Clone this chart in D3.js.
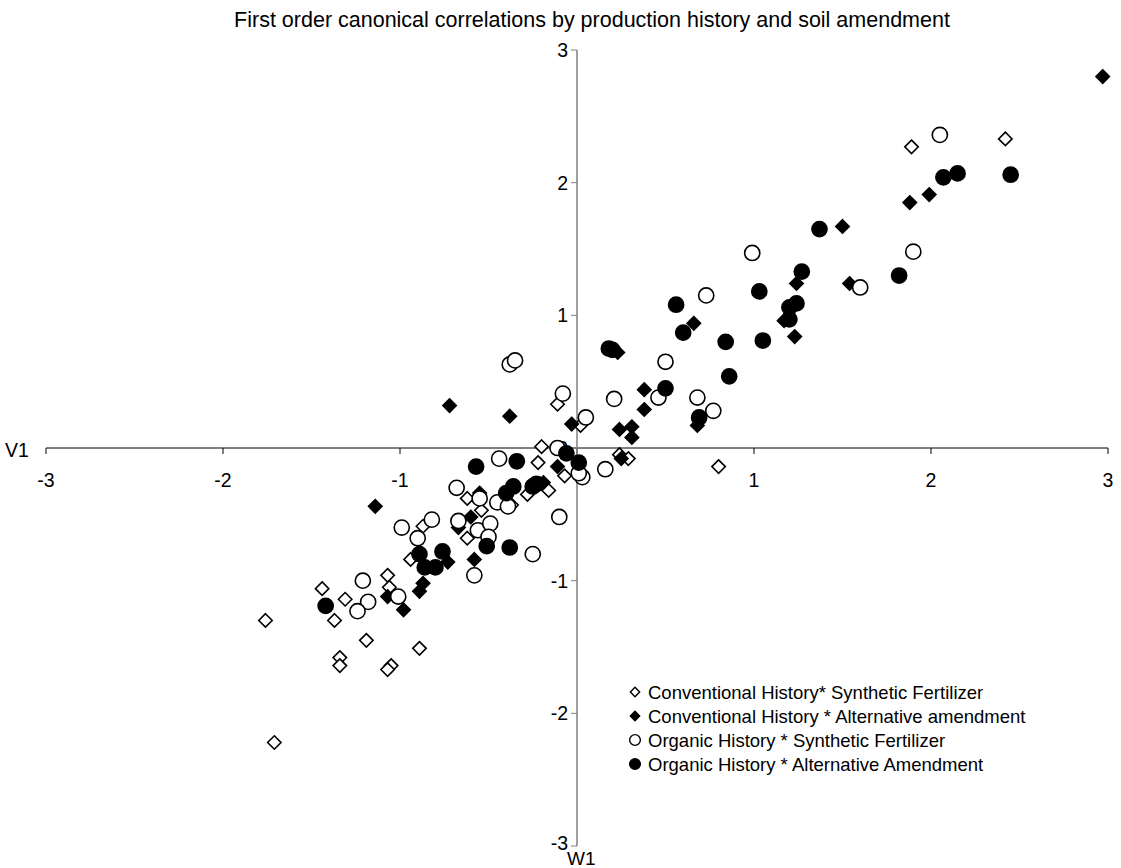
<!DOCTYPE html>
<html>
<head>
<meta charset="utf-8">
<script src="https://cdn.jsdelivr.net/npm/d3@7"></script>
<style>
  body { margin: 0; background: #fff; }
  text { font-family: "Liberation Sans", Arial, sans-serif; fill: #000; }
</style>
</head>
<body>
<svg id="chart" width="1121" height="868"></svg>
<script>
// canonical variates W1 (x) and V1 (y)
const convSynthetic = [
  [0.80, -0.14], [1.89, 2.27], [2.42, 2.33], [-0.11, 0.33], [0.02, 0.17],
  [-0.20, 0.01], [-0.22, -0.11], [-0.07, -0.21], [0.24, -0.05], [0.29, -0.08],
  [-0.16, -0.32], [-0.28, -0.35], [-0.37, -0.43], [-0.62, -0.38], [-0.54, -0.47],
  [-0.62, -0.68], [-0.87, -0.59], [-0.94, -0.84], [-1.44, -1.06], [-1.31, -1.14],
  [-1.37, -1.30], [-1.07, -0.96], [-1.06, -1.05], [-1.76, -1.30], [-1.19, -1.45],
  [-1.34, -1.58], [-1.34, -1.64], [-1.05, -1.64], [-1.07, -1.67], [-0.89, -1.51],
  [-1.71, -2.22]
];
const convAlternative = [
  [2.97, 2.80], [1.88, 1.85], [1.99, 1.91], [1.50, 1.67], [1.54, 1.24],
  [1.24, 1.24], [1.17, 0.96], [1.23, 0.84], [0.66, 0.94], [0.23, 0.72],
  [0.38, 0.44], [0.38, 0.29], [0.24, 0.14], [0.31, 0.16], [0.31, 0.08],
  [-0.03, 0.18], [0.25, -0.08], [0.68, 0.17], [-0.72, 0.32], [-0.38, 0.24],
  [-1.14, -0.44], [-0.11, -0.14], [-0.19, -0.26], [-0.55, -0.34], [-0.60, -0.52],
  [-0.67, -0.60], [-0.73, -0.86], [-0.58, -0.84], [-0.87, -1.02], [-0.89, -1.08],
  [-1.07, -1.12], [-0.98, -1.22], [-0.21, -0.27]
];
const orgSynthetic = [
  [2.05, 2.36], [1.90, 1.48], [1.60, 1.21], [0.99, 1.47], [0.73, 1.15],
  [0.50, 0.65], [0.21, 0.37], [0.46, 0.38], [0.68, 0.38], [0.77, 0.28],
  [-0.08, 0.41], [0.05, 0.23], [0.16, -0.16], [0.03, -0.22], [0.01, -0.19],
  [-0.38, 0.63], [-0.35, 0.66], [-0.44, -0.08], [-0.11, 0.00], [-0.10, -0.52],
  [-0.68, -0.30], [-0.55, -0.38], [-0.45, -0.41], [-0.39, -0.44], [-0.67, -0.55],
  [-0.56, -0.62], [-0.49, -0.57], [-0.50, -0.67], [-0.82, -0.54], [-0.99, -0.60],
  [-0.90, -0.68], [-0.25, -0.80], [-0.58, -0.96], [-1.21, -1.00], [-1.18, -1.16],
  [-1.24, -1.23], [-1.01, -1.12]
];
const orgAlternative = [
  [2.45, 2.06], [2.15, 2.07], [2.07, 2.04], [1.82, 1.30], [1.37, 1.65],
  [1.27, 1.33], [1.24, 1.09], [1.20, 1.06], [1.20, 0.97], [1.03, 1.18],
  [1.05, 0.81], [0.84, 0.80], [0.86, 0.54], [0.56, 1.08], [0.60, 0.87],
  [0.18, 0.75], [0.20, 0.74], [0.50, 0.45], [0.69, 0.23], [-0.06, -0.04],
  [0.01, -0.11], [-0.57, -0.14], [-0.34, -0.10], [-0.36, -0.29], [-0.25, -0.29],
  [-0.23, -0.27], [-0.51, -0.74], [-0.38, -0.75], [-0.89, -0.80], [-0.76, -0.78],
  [-0.86, -0.90], [-0.80, -0.90], [-1.42, -1.19], [-0.40, -0.34]
];
const xTicks = [-3, -2, -1, 1, 2, 3];
const yTicks = [-3, -2, -1, 0, 1, 2, 3];

const series = [
  { name: "Conventional History* Synthetic Fertilizer", data: convSynthetic, shape: "diamond", fill: "#fff" },
  { name: "Conventional History * Alternative amendment", data: convAlternative, shape: "diamond", fill: "#000" },
  { name: "Organic History * Synthetic Fertilizer", data: orgSynthetic, shape: "circle", fill: "#fff" },
  { name: "Organic History * Alternative Amendment", data: orgAlternative, shape: "circle", fill: "#000" }
];

const svg = d3.select("#chart");
const margin = { left: 46, right: 13, top: 50, bottom: 22 };
const W = 1121, H = 868;

const x = d3.scaleLinear().domain([-3, 3]).range([margin.left, W - margin.right]);
const y = d3.scaleLinear().domain([-3, 3]).range([H - margin.bottom, margin.top]);

const symDiamond = d3.symbol().type(d3.symbolDiamond2).size(115);
const symCircle = d3.symbol().type(d3.symbolCircle).size(180);

svg.append("text")
  .attr("x", 592).attr("y", 27)
  .attr("text-anchor", "middle")
  .style("font-size", "21.5px")
  .text("First order canonical correlations by production history and soil amendment");

// x axis through y = 0, ticks pointing down
const xAxis = svg.append("g").attr("transform", `translate(0,${y(0)})`);
xAxis.append("line")
  .attr("x1", x(-3)).attr("x2", x(3))
  .attr("stroke", "#000").attr("stroke-width", 1);
xAxis.selectAll(".tk").data(yTicks).join("line")
  .attr("x1", d => x(d)).attr("x2", d => x(d))
  .attr("y1", 0).attr("y2", 6)
  .attr("stroke", "#000");
xAxis.selectAll(".lb").data(xTicks).join("text")
  .attr("x", d => x(d)).attr("y", 39)
  .attr("text-anchor", "middle")
  .style("font-size", "19.5px")
  .text(d => d);

// y axis through x = 0, ticks pointing left
const yAxis = svg.append("g").attr("transform", `translate(${x(0)},0)`);
yAxis.append("line")
  .attr("y1", y(-3)).attr("y2", y(3))
  .attr("stroke", "#808080").attr("stroke-width", 1.5);
yAxis.selectAll(".tk").data(yTicks).join("line")
  .attr("x1", -6).attr("x2", 0)
  .attr("y1", d => y(d)).attr("y2", d => y(d))
  .attr("stroke", "#808080");
yAxis.selectAll(".lb").data(yTicks).join("text")
  .attr("x", -9).attr("y", d => y(d) + (d === -3 ? 4 : 7))
  .attr("text-anchor", "end")
  .style("font-size", "19.5px")
  .text(d => d);

svg.append("text").attr("x", 5).attr("y", y(0) + 9).style("font-size", "19.5px").text("V1");
svg.append("text").attr("x", 567).attr("y", 865).style("font-size", "19px").text("W1");

// points, drawn series by series
series.forEach(s => {
  svg.append("g").selectAll("path").data(s.data).join("path")
    .attr("transform", d => `translate(${x(d[0])},${y(d[1])})`)
    .attr("d", s.shape === "diamond" ? symDiamond : symCircle)
    .attr("fill", s.fill)
    .attr("stroke", "#000")
    .attr("stroke-width", 1.6);
});

// legend
const legend = svg.append("g").attr("transform", "translate(635,692)");
const row = legend.selectAll("g").data(series).join("g")
  .attr("transform", (d, i) => `translate(0,${i * 24})`);
row.append("path")
  .attr("d", d => d.shape === "diamond"
    ? d3.symbol().type(d3.symbolDiamond2).size(55)()
    : d3.symbol().type(d3.symbolCircle).size(90)())
  .attr("fill", d => d.fill)
  .attr("stroke", "#000")
  .attr("stroke-width", 1.4);
row.append("text")
  .attr("x", 13).attr("y", 6.5)
  .style("font-size", "18.5px")
  .text(d => d.name);
</script>
</body>
</html>
